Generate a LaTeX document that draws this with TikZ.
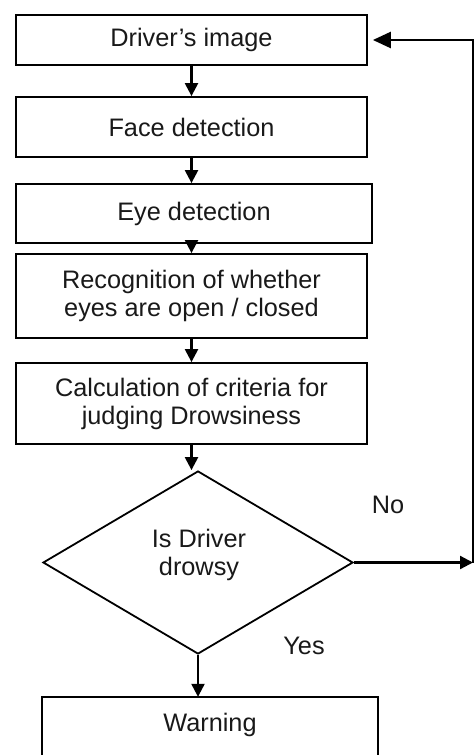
\documentclass[tikz,border=0pt]{standalone}
\usepackage{fontspec}
\setmainfont{Liberation Sans}
\usetikzlibrary{shapes.geometric,arrows.meta}
\begin{document}
\begin{tikzpicture}[x=1pt,y=-1pt,
  txt/.style={font=\fontsize{25.3}{28}\selectfont, align=center, text=black!90},
  box/.style={txt, draw, line width=1.8pt, rectangle, inner sep=0pt},
  arr/.style={line width=2.3pt, -{Triangle[length=13pt,width=13pt]}},
  fbarr/.style={line width=2.6pt, -{Triangle[length=18pt,width=16pt]}}]
\useasboundingbox (0,0) rectangle (475,755);
\clip (0,0) rectangle (475,755);
\node[box, minimum width=351pt, minimum height=50pt] (b1) at (191.5,40) {Driver’s image};
\node[box, minimum width=351pt, minimum height=60pt] (b2) at (191.5,127) {Face detection};
\node[box, minimum width=356pt, minimum height=59pt] (b3) at (194,213.5) {Eye detection};
\node[box, minimum width=351pt, minimum height=84pt] (b4) at (191.5,296) {Recognition of whether\\eyes are open / closed};
\node[box, minimum width=351pt, minimum height=81pt] (b5) at (191.5,403.5) {Calculation of criteria for\\judging Drowsiness};
\node[draw, diamond, line width=1.8pt, minimum width=310pt, minimum height=183pt, inner sep=0pt] (dia) at (198,562.5) {};
\node[txt] (diatext) at (199,555) {Is Driver\\drowsy};
\node[txt, minimum width=336pt, minimum height=56pt, inner sep=0pt] (warn) at (210,725) {Warning};
\draw[line width=1.8pt] ([yshift=-40pt]warn.south west) |- (warn.north east) -- ([yshift=-40pt]warn.south east);
\node[txt] (no) at (388,505) {No};
\node[txt] (yes) at (304,646) {Yes};
\coordinate (fb) at (473,562.5);
\draw[arr] (b1.south) -- (b2.north);
\draw[arr] (b2.south) -- (b2.south |- b3.north);
\draw[arr] (b3.south -| b4.south) -- (b4.north);
\draw[arr] (b4.south) -- (b5.north);
\draw[arr] (b5.south) -- (b5.south |- dia.north);
\draw[arr] (dia.south) -- (dia.south |- warn.north);
\draw[arr] (dia.east) -- (fb);
\draw[fbarr, shorten >=5pt] (fb) |- (b1.east);
\end{tikzpicture}
\end{document}
